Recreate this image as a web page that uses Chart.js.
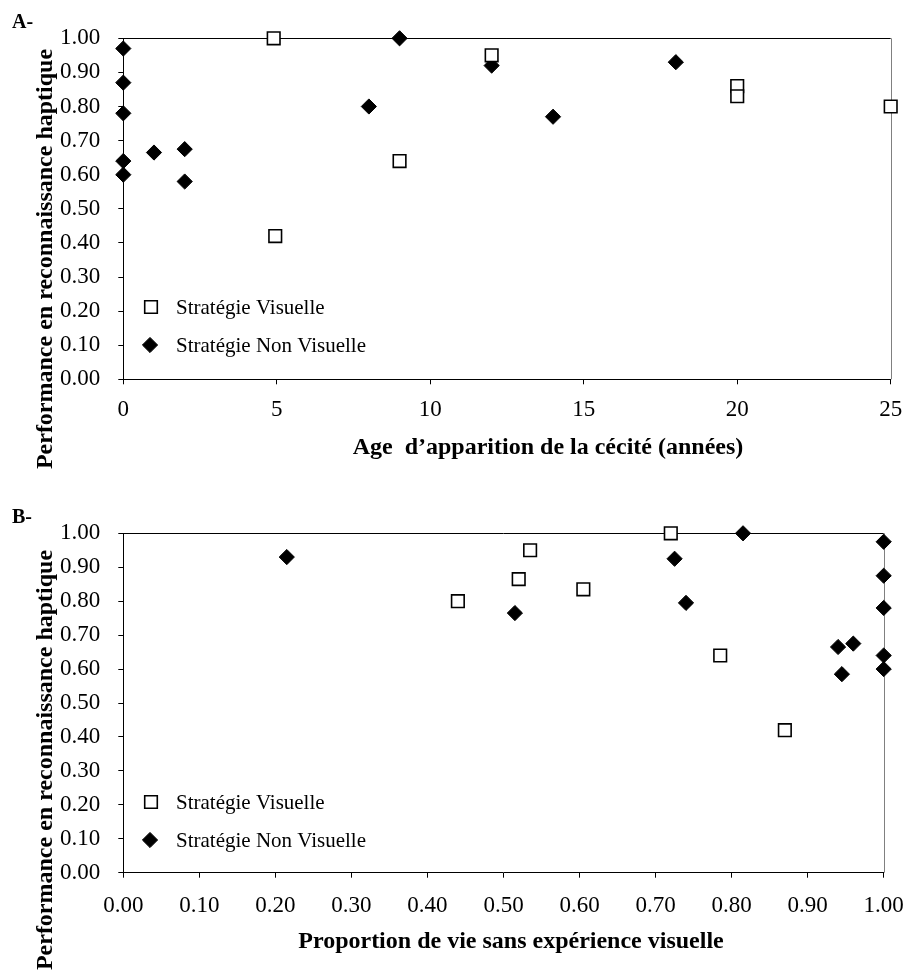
<!DOCTYPE html>
<html><head><meta charset="utf-8">
<script src="https://cdn.jsdelivr.net/npm/chart.js@4.4.0/dist/chart.umd.min.js"></script>
<style>
html,body{margin:0;padding:0;background:#fff;}
.wrap{position:relative;width:904px;height:486px;}
canvas{display:block;}
</style></head><body>
<div class="wrap"><canvas id="chartA" width="904" height="486"></canvas></div>
<div class="wrap"><canvas id="chartB" width="904" height="486"></canvas></div>
<script>
// ---- Data ----
const seriesNames = ['Stratégie Visuelle', 'Stratégie Non Visuelle'];

// Panel A: age at onset of blindness (years)
const ageVisuelX    = [4.9, 4.95, 9, 12, 20, 20, 25];
const ageVisuelY    = [1.00, 0.42, 0.64, 0.95, 0.86, 0.83, 0.80];
const ageNonVisuelX = [0, 0, 0, 0, 0, 1, 2, 2, 8, 9, 12, 14, 18];
const ageNonVisuelY = [0.97, 0.87, 0.78, 0.64, 0.60, 0.665, 0.675, 0.58, 0.80, 1.00, 0.92, 0.77, 0.93];

// Panel B: proportion of life without visual experience
const propVisuelX    = [0.72, 0.87, 0.785, 0.535, 0.52, 0.605, 0.44];
const propVisuelY    = [1.00, 0.42, 0.64, 0.95, 0.865, 0.835, 0.80];
const propNonVisuelX = [0.215, 0.515, 0.725, 0.74, 0.815, 0.94, 0.96, 0.945, 1, 1, 1, 1, 1];
const propNonVisuelY = [0.93, 0.765, 0.925, 0.795, 1.00, 0.665, 0.675, 0.585, 0.975, 0.875, 0.78, 0.64, 0.60];

// Tick settings
const ageTickStep = 5, ageMax = 25;
const propTickStep = 0.1, propMax = 1;
const perfTickStep = 0.1, perfMax = 1;

// Titles
const panelLabels = ['A-', 'B-'];
const yTitle = 'Performance en reconnaissance haptique';
const xTitleA = 'Age  d\u2019apparition de la cécité (années)';
const xTitleB = 'Proportion de vie sans expérience visuelle';

// ---- Rendering ----
const SERIF = '"Liberation Serif", "Times New Roman", serif';

const decorPlugin = {
  id: 'decor',
  beforeDatasetsDraw(chart, args, o) {
    const {ctx, chartArea: {left, right, top, bottom}} = chart;
    ctx.save();
    ctx.lineWidth = 1;
    ctx.strokeStyle = '#000';
    ctx.beginPath(); ctx.moveTo(left, Math.round(top) + 0.5); ctx.lineTo(right, Math.round(top) + 0.5); ctx.stroke();
    ctx.strokeStyle = '#808080';
    ctx.beginPath(); ctx.moveTo(Math.round(right) + 0.5, top); ctx.lineTo(Math.round(right) + 0.5, bottom); ctx.stroke();
    ctx.restore();
  },
  afterDraw(chart, args, o) {
    const ctx = chart.ctx;
    ctx.save();
    ctx.fillStyle = '#000';
    // panel label
    ctx.font = 'bold 20px ' + SERIF;
    ctx.textAlign = 'left'; ctx.textBaseline = 'alphabetic';
    ctx.fillText(o.panel.text, o.panel.x, o.panel.y);
    // x title
    ctx.font = 'bold 24px ' + SERIF;
    ctx.textAlign = 'center';
    ctx.fillText(o.xTitle.text, o.xTitle.cx, o.xTitle.y);
    // y title
    ctx.save();
    ctx.translate(o.yTitle.x, o.yTitle.cy);
    ctx.rotate(-Math.PI / 2);
    ctx.fillText(o.yTitle.text, 0, 0);
    ctx.restore();
    // legend
    ctx.font = '21px ' + SERIF;
    ctx.textAlign = 'left';
    chart.data.datasets.forEach((ds, i) => {
      const it = o.legend[i];
      ctx.save();
      ctx.fillStyle = ds.backgroundColor;
      ctx.strokeStyle = ds.borderColor;
      ctx.lineWidth = ds.borderWidth;
      Chart.helpers.drawPoint(ctx, {pointStyle: ds.pointStyle, radius: ds.pointRadius, rotation: 0, borderWidth: ds.borderWidth}, it.mx, it.my);
      ctx.restore();
      ctx.fillStyle = '#000';
      ctx.fillText(ds.label, o.legend.textX, it.ty);
    });
    ctx.restore();
  }
};

function pts(xs, ys) { return xs.map((x, i) => ({x: x, y: ys[i]})); }

function noPad(s) { s.paddingLeft = 0; s.paddingRight = 0; s.paddingTop = 0; s.paddingBottom = 0; }

function makeChart(id, visX, visY, nvX, nvY, xMax, xStep, xDecimals, geom) {
  return new Chart(document.getElementById(id), {
    type: 'scatter',
    data: {
      datasets: [
        { label: seriesNames[0], data: pts(visX, visY), pointStyle: 'rect', pointRadius: 8.9, pointHoverRadius: 8.9,
          backgroundColor: '#fff', borderColor: '#000', borderWidth: 1.6, clip: false },
        { label: seriesNames[1], data: pts(nvX, nvY), pointStyle: 'rectRot', pointRadius: 7.6, pointHoverRadius: 7.6,
          backgroundColor: '#000', borderColor: '#000', borderWidth: 1, clip: false }
      ]
    },
    options: {
      responsive: false, animation: false,
      layout: { padding: { top: geom.top, right: geom.right, left: 0, bottom: 0 } },
      plugins: {
        legend: { display: false }, tooltip: { enabled: false },
        decor: geom.decor
      },
      scales: {
        x: {
          type: 'linear', min: 0, max: xMax,
          afterFit: s => { s.height = geom.xh; noPad(s); },
          ticks: { stepSize: xStep, color: '#000', padding: geom.xpad, maxRotation: 0,
                   font: { family: SERIF, size: 23 },
                   callback: v => v.toFixed(xDecimals) },
          grid: { display: true, drawOnChartArea: false, drawTicks: true, tickLength: 5, color: '#000' },
          border: { display: true, color: '#000', width: 1 }
        },
        y: {
          type: 'linear', min: 0, max: perfMax,
          afterFit: s => { s.width = geom.yw; noPad(s); },
          ticks: { stepSize: perfTickStep, color: '#000', padding: 18,
                   font: { family: SERIF, size: 23 },
                   callback: v => v.toFixed(2) },
          grid: { display: true, drawOnChartArea: false, drawTicks: true, tickLength: 5, color: '#000' },
          border: { display: true, color: '#000', width: 1 }
        }
      }
    },
    plugins: [decorPlugin]
  });
}

makeChart('chartA', ageVisuelX, ageVisuelY, ageNonVisuelX, ageNonVisuelY, ageMax, ageTickStep, 0, {
  top: 38.3, right: 13.3, xh: 106.7, yw: 123.3, xpad: 12,
  decor: {
    panel: { text: panelLabels[0], x: 12, y: 28 },
    xTitle: { text: xTitleA, cx: 548, y: 454 },
    yTitle: { text: yTitle, x: 52, cy: 259 },
    legend: { textX: 176, 0: { mx: 151, my: 307, ty: 314 }, 1: { mx: 150, my: 345, ty: 352 } }
  }
});

makeChart('chartB', propVisuelX, propVisuelY, propNonVisuelX, propNonVisuelY, propMax, propTickStep, 2, {
  top: 47.3, right: 20.3, xh: 99.3, yw: 123.3, xpad: 14,
  decor: {
    panel: { text: panelLabels[1], x: 12, y: 36.5 },
    xTitle: { text: xTitleB, cx: 511, y: 461.5 },
    yTitle: { text: yTitle, x: 52, cy: 274 },
    legend: { textX: 176, 0: { mx: 151, my: 316, ty: 323 }, 1: { mx: 150, my: 354, ty: 361 } }
  }
});
</script>
</body></html>
